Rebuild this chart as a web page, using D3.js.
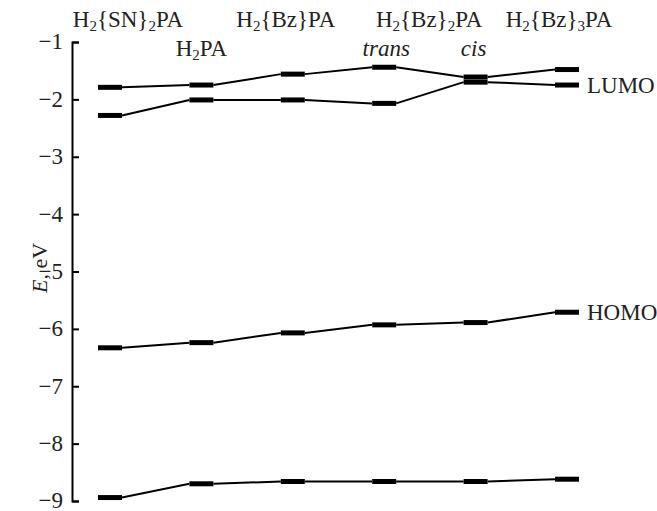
<!DOCTYPE html>
<head>
  <meta charset="utf-8">
  <script src="https://d3js.org/d3.v7.min.js"></script>
  <style>
    body { margin: 0; background: #fff; }
    text { font-family: "Liberation Serif", "DejaVu Serif", serif; fill: #222; }
    .axis path, .axis line { stroke: #000; stroke-width: 2px; }
    .axis text { font-size: 23px; }
    .level { stroke: #000; stroke-width: 5px; }
    .link { stroke: #000; stroke-width: 2px; fill: none; }
  </style>
</head>
<body>
<script>
// compound positions along the diagram
var positions = ['SN2', 'H2PA', 'Bz', 'trans', 'cis', 'Bz3'];

// orbital energies, eV
var lumoUpper = [-1.79, -1.75, -1.56, -1.44, -1.61, -1.48];
var lumoLower = [-2.28, -2.01, -2.01, -2.07, -1.70, -1.75];
var homo      = [-6.33, -6.24, -6.07, -5.93, -5.89, -5.71];
var deep      = [-8.94, -8.70, -8.66, -8.66, -8.66, -8.62];

var yTicks = [-1, -2, -3, -4, -5, -6, -7, -8, -9];

var width = 657, height = 511;
var barHalf = 12;

var svg = d3.select('body').append('svg')
  .attr('width', width)
  .attr('height', height);

var x = d3.scalePoint()
  .domain(positions)
  .range([110, 567]);

var y = d3.scaleLinear()
  .domain([-9, -1])
  .range([501, 42]);

svg.append('g')
  .attr('class', 'axis')
  .attr('transform', 'translate(72,0)')
  .call(d3.axisLeft(y).tickValues(yTicks).tickSizeInner(-7).tickSizeOuter(-7).tickPadding(9))
  .call(function(g) { g.selectAll('text').attr('fill', '#222').attr('dy', '0.3em'); });

var eLabel = svg.append('text')
  .attr('transform', 'translate(47,268) rotate(-90)')
  .attr('text-anchor', 'middle')
  .style('font-size', '22px');
eLabel.append('tspan').attr('font-style', 'italic').text('E');
eLabel.append('tspan').text(',\u00a0eV');

function drawSeries(vals) {
  var segs = [];
  for (var i = 0; i < vals.length - 1; i++) {
    segs.push([positions[i], vals[i], positions[i + 1], vals[i + 1]]);
  }
  svg.selectAll(null)
    .data(segs)
    .enter().append('line')
    .attr('class', 'link')
    .attr('x1', function(d) { return x(d[0]) + barHalf; })
    .attr('y1', function(d) { return y(d[1]); })
    .attr('x2', function(d) { return x(d[2]) - barHalf; })
    .attr('y2', function(d) { return y(d[3]); });

  svg.selectAll(null)
    .data(vals)
    .enter().append('line')
    .attr('class', 'level')
    .attr('x1', function(d, i) { return x(positions[i]) - barHalf; })
    .attr('x2', function(d, i) { return x(positions[i]) + barHalf; })
    .attr('y1', function(d) { return y(d); })
    .attr('y2', function(d) { return y(d); });
}

[lumoUpper, lumoLower, homo, deep].forEach(drawSeries);

// compound names
var sub = function(s) { return '<tspan font-size="15" dy="4">' + s + '</tspan>'; };
var up = function(s) { return '<tspan dy="-4">' + s + '</tspan>'; };
var topLabels = [
  { pos: 'SN2', dx: 18, y: 27, html: 'H' + sub('2') + up('{SN}') + sub('2') + up('PA') },
  { pos: 'H2PA', dx: 0, y: 56, html: 'H' + sub('2') + up('PA') },
  { pos: 'Bz', dx: -7, y: 27, html: 'H' + sub('2') + up('{Bz}PA') },
  { pos: 'trans', dx: 45, y: 27, html: 'H' + sub('2') + up('{Bz}') + sub('2') + up('PA') },
  { pos: 'Bz3', dx: -8, y: 27, html: 'H' + sub('2') + up('{Bz}') + sub('3') + up('PA') },
  { pos: 'trans', dx: 2, y: 56, html: '<tspan font-style="italic">trans</tspan>' },
  { pos: 'cis', dx: -2, y: 56, html: '<tspan font-style="italic">cis</tspan>' }
];

svg.selectAll(null)
  .data(topLabels)
  .enter().append('text')
  .attr('x', function(d) { return x(d.pos) + d.dx; })
  .attr('y', function(d) { return d.y; })
  .attr('text-anchor', 'middle')
  .style('font-size', '23px')
  .html(function(d) { return d.html; });

svg.append('text')
  .attr('x', 587).attr('y', y(-1.75) + 8)
  .style('font-size', '23px')
  .text('LUMO');

svg.append('text')
  .attr('x', 587).attr('y', y(-5.71) + 8)
  .style('font-size', '23px')
  .text('HOMO');
</script>
</body>
